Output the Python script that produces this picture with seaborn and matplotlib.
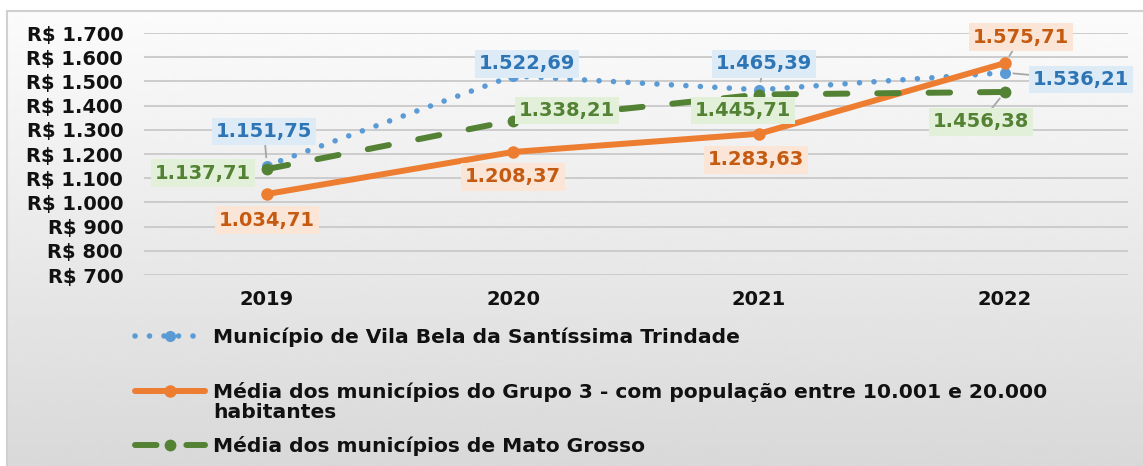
import numpy as np
import pandas as pd
import matplotlib
matplotlib.use("Agg")
import matplotlib.pyplot as plt
import seaborn as sns
from matplotlib.lines import Line2D
from matplotlib.ticker import FuncFormatter

# ---- data -------------------------------------------------------------
anos = ["2019", "2020", "2021", "2022"]
vila_bela = [1151.75, 1522.69, 1465.39, 1536.21]
grupo3 = [1034.71, 1208.37, 1283.63, 1575.71]
mato_grosso = [1137.71, 1338.21, 1445.71, 1456.38]

nome_vila = "Município de Vila Bela da Santíssima Trindade"
nome_grupo = "Média dos municípios do Grupo 3 - com população entre 10.001 e 20.000"
nome_grupo_cont = "habitantes"
nome_mt = "Média dos municípios de Mato Grosso"

y_ticks = list(range(700, 1701, 100))

# ---- style ------------------------------------------------------------
sns.set_theme(style="white")
plt.rcParams["font.family"] = ["DejaVu Sans"]
plt.rcParams["font.weight"] = "bold"

AZUL, AZUL_TXT, AZUL_BOX = "#5B9BD5", "#2E75B6", "#DDEBF7"
LARANJA, LARANJA_TXT, LARANJA_BOX = "#ED7D31", "#C55A11", "#FBE5D6"
VERDE, VERDE_TXT, VERDE_BOX = "#548235", "#548235", "#E2F0D9"
CINZA_LINHA = "#A6A6A6"
TEXTO = "#111111"

W, H = 1143, 466
fig = plt.figure(figsize=(W / 100, H / 100), dpi=100)

# background: vertical grey gradient inside a thin-bordered chart area
bg = fig.add_axes([0, 0, 1, 1], zorder=-10)
bg.set_xlim(0, W)
bg.set_ylim(H, 0)
bg.axis("off")
grad = np.linspace(0.985, 0.85, 256).reshape(-1, 1)
bg.imshow(grad, cmap="gray", vmin=0, vmax=1, aspect="auto",
          extent=[7, W, H, 11], interpolation="bicubic")
bg.plot([7, W], [11, 11], color="#D0D0D0", lw=1.5)
bg.plot([7, 7], [11, H], color="#D0D0D0", lw=1.5)

ax = fig.add_axes([144 / W, 1 - 275 / H, (1128 - 144) / W, (275 - 33) / H])
ax.set_facecolor("none")

x = np.arange(len(anos))
df = pd.DataFrame({"x": x, "vila": vila_bela, "grupo": grupo3, "mt": mato_grosso})

DOT = (0, (0.01, 2.6))
DASH = (0, (3.6, 5.0))

sns.lineplot(data=df, x="x", y="vila", ax=ax, color=AZUL, lw=4.0,
             marker="o", markersize=8, markeredgewidth=0,
             linestyle=DOT, dash_capstyle="round", zorder=3)
sns.lineplot(data=df, x="x", y="grupo", ax=ax, color=LARANJA, lw=4.3,
             marker="o", markersize=9, markeredgewidth=0,
             solid_capstyle="round", zorder=4)
sns.lineplot(data=df, x="x", y="mt", ax=ax, color=VERDE, lw=4.3,
             marker="o", markersize=8.5, markeredgewidth=0,
             linestyle=DASH, dash_capstyle="round", zorder=5)

ax.set_xlim(-0.5, 3.5)
ax.set_ylim(700, 1700)
ax.set_yticks(y_ticks)
ax.yaxis.set_major_formatter(
    FuncFormatter(lambda v, _: "R$ " + f"{int(v):,}".replace(",", ".")))
ax.set_xticks(x)
ax.set_xticklabels(anos)
ax.set_xlabel("")
ax.set_ylabel("")
ax.grid(axis="y", color="#CCCCCC", lw=1.4)
ax.grid(axis="x", visible=False)
for s in ax.spines.values():
    s.set_visible(False)
ax.tick_params(axis="y", length=0, pad=15, labelsize=14, labelcolor=TEXTO)
ax.tick_params(axis="x", length=0, pad=11, labelsize=14, labelcolor=TEXTO)
for t in ax.get_xticklabels() + ax.get_yticklabels():
    t.set_fontweight("bold")


def fmt(v):
    s = f"{v:,.2f}"
    return s.replace(",", "X").replace(".", ",").replace("X", ".")


# data labels: (series values, text colour, box colour, offsets in px, leader flags)
rotulos = [
    (vila_bela, AZUL_TXT, AZUL_BOX,
     [(-3, 34), (14, 12), (5, 26), (76, -7)], [True, False, True, True]),
    (grupo3, LARANJA_TXT, LARANJA_BOX,
     [(0, -26), (0, -25), (-3, -26), (16, 26)], [False, False, False, True]),
    (mato_grosso, VERDE_TXT, VERDE_BOX,
     [(-64, -4), (54, 10), (-16, -16), (-24, -30)], [False, False, False, True]),
]
for vals, tc, bc, offs, leaders in rotulos:
    for xi, v, (dx, dy), ld in zip(x, vals, offs, leaders):
        arrow = None
        if ld:
            arrow = dict(arrowstyle="-", color=CINZA_LINHA, lw=1.3,
                         shrinkA=0, shrinkB=6)
        ax.annotate(fmt(v), xy=(xi, v), xytext=(dx, dy),
                    textcoords="offset pixels", ha="center", va="center",
                    fontsize=14, fontweight="bold", color=tc,
                    bbox=dict(boxstyle="square,pad=0.22", fc=bc, ec="none"),
                    arrowprops=arrow, zorder=10, annotation_clip=False)

# legend, one entry per row
leg_font = dict(family="DejaVu Sans", weight="bold", size=14.6)
handles = [
    Line2D([], [], color=AZUL, lw=4.0, linestyle=DOT,
           dash_capstyle="round", marker="o", markersize=8, markeredgewidth=0),
    Line2D([], [], color=LARANJA, lw=4.3, marker="o", markersize=9,
           markeredgewidth=0),
    Line2D([], [], color=VERDE, lw=4.3, linestyle=DASH,
           dash_capstyle="round", marker="o", markersize=8.5, markeredgewidth=0),
]
labels = [nome_vila, nome_grupo, nome_mt]
rows_y = [337, 392, 446]
for h, lab, yy in zip(handles, labels, rows_y):
    lg = fig.legend([h], [lab], loc="center left",
                    bbox_to_anchor=(135 / W, 1 - yy / H), frameon=False,
                    prop=leg_font, handlelength=3.45, handletextpad=0.4,
                    borderpad=0, borderaxespad=0, numpoints=1)
    for t in lg.get_texts():
        t.set_color(TEXTO)
fig.text(213 / W, 1 - 413 / H, nome_grupo_cont, ha="left", va="center",
         fontdict=leg_font, color=TEXTO)

fig.savefig("out.png", dpi=100)
